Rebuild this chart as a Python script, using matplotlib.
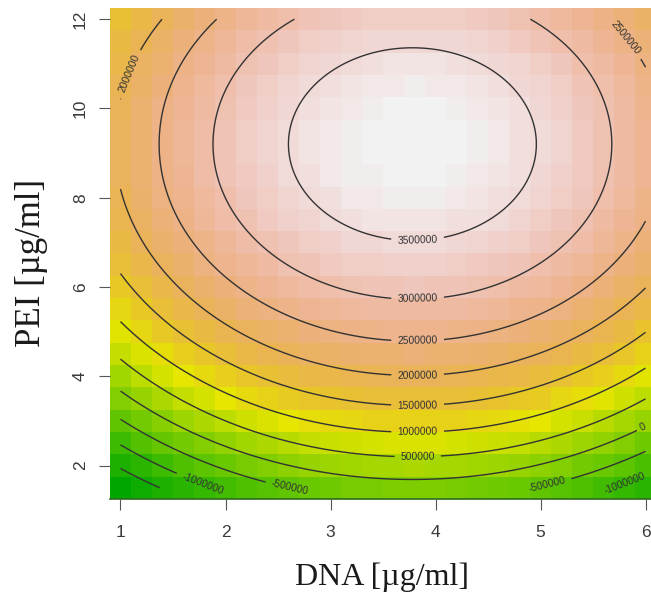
import colorsys
import numpy as np
import matplotlib
matplotlib.use("Agg")
import matplotlib.pyplot as plt
from matplotlib.colors import ListedColormap

# ---- data ----
dna = np.round(np.arange(1.0, 6.0001, 0.2), 2)      # DNA grid [ug/ml] (image cells)
pei = np.round(np.arange(1.5, 12.0001, 0.5), 2)     # PEI grid [ug/ml] (image cells)
dna_opt = 3.78
pei_opt = 9.2
peak_value = 3.815e6
curv_dna = 2.26e5
curv_pei = 6.76e4
levels = [-2000000, -1500000, -1000000, -500000, 0, 500000, 1000000,
          1500000, 2000000, 2500000, 3000000, 3500000]
x_ticks = [1, 2, 3, 4, 5, 6]
y_ticks = [2, 4, 6, 8, 10, 12]


def surface(x, y):
    return peak_value - curv_dna * (x - dna_opt) ** 2 - curv_pei * (y - pei_opt) ** 2


X, Y = np.meshgrid(dna, pei)
Z = surface(X, Y)

# finer evaluation of the same model (over the grid's range) for smooth contour lines
dna_f = np.linspace(dna.min(), dna.max(), 201)
pei_f = np.linspace(pei.min(), pei.max(), 211)
XF, YF = np.meshgrid(dna_f, pei_f)
ZF = surface(XF, YF)


def terrain_colors(n):
    k = n // 2
    cols = []
    for h, s, v in zip(np.linspace(4 / 12, 2 / 12, k), np.ones(k), np.linspace(0.65, 0.9, k)):
        cols.append(colorsys.hsv_to_rgb(h, s, v))
    m = n - k
    for h, s, v in zip(np.linspace(2 / 12, 0, m + 1)[1:], np.linspace(1, 0, m + 1)[1:],
                       np.linspace(0.9, 0.95, m + 1)[1:]):
        cols.append(colorsys.hsv_to_rgb(h, s, v))
    return cols


cmap = ListedColormap(terrain_colors(100))

fig = plt.figure(figsize=(6.51, 5.92), dpi=100)
ax = fig.add_axes([110 / 651, 93 / 592, 546 / 651, 491 / 592])

ax.pcolormesh(dna, pei, Z, shading="nearest", cmap=cmap,
              vmin=Z.min(), vmax=Z.max(), antialiased=False)
cs = ax.contour(dna_f, pei_f, ZF, levels=levels, colors="#333333",
                linewidths=1.0, linestyles="solid")

label_pos = [(1.12, 10.74), (5.78, 11.53), (3.83, 7.04), (3.83, 5.72), (3.83, 4.78),
             (3.83, 4.02), (3.83, 3.35), (3.83, 2.76), (3.83, 2.2), (2.63, 1.5),
             (5.06, 1.6), (1.79, 1.62), (5.79, 1.66), (5.97, 2.9)]
ax.clabel(cs, inline=True, fontsize=7.4, colors="#333333",
          fmt=lambda v: f"{int(round(v))}", manual=label_pos, inline_spacing=4)
for t in cs.labelTexts:
    t.set_fontfamily("Liberation Sans")

ax.set_xlim(0.9, 6.1)
ax.set_ylim(1.25, 12.25)
ax.set_xticks(x_ticks)
ax.set_yticks(y_ticks)
ax.set_xticklabels([str(v) for v in x_ticks], fontsize=12.5, family="Liberation Sans",
                   color="#3a3a3a")
ax.set_yticklabels([str(v) for v in y_ticks], fontsize=12.5, family="Liberation Sans",
                   color="#3a3a3a", rotation=90, va="center")
ax.tick_params(axis="x", direction="out", length=8, width=0.8, color="#555555", pad=11)
ax.tick_params(axis="y", direction="out", length=8, width=0.8, color="#555555", pad=8)

for side in ["top", "left", "right"]:
    ax.spines[side].set_visible(False)
ax.spines["bottom"].set_color("#2e6a1e")
ax.spines["bottom"].set_linewidth(1.2)

fig.text(382 / 651, 1 - 577 / 592, "DNA [µg/ml]", ha="center", va="center",
         fontsize=23, family="Liberation Serif", color="#1a1a1a")
fig.text(32 / 651, 1 - 263 / 592, "PEI [µg/ml]", ha="center", va="center",
         fontsize=25, family="Liberation Serif", color="#1a1a1a", rotation=90)

fig.savefig("out.png", dpi=100)
